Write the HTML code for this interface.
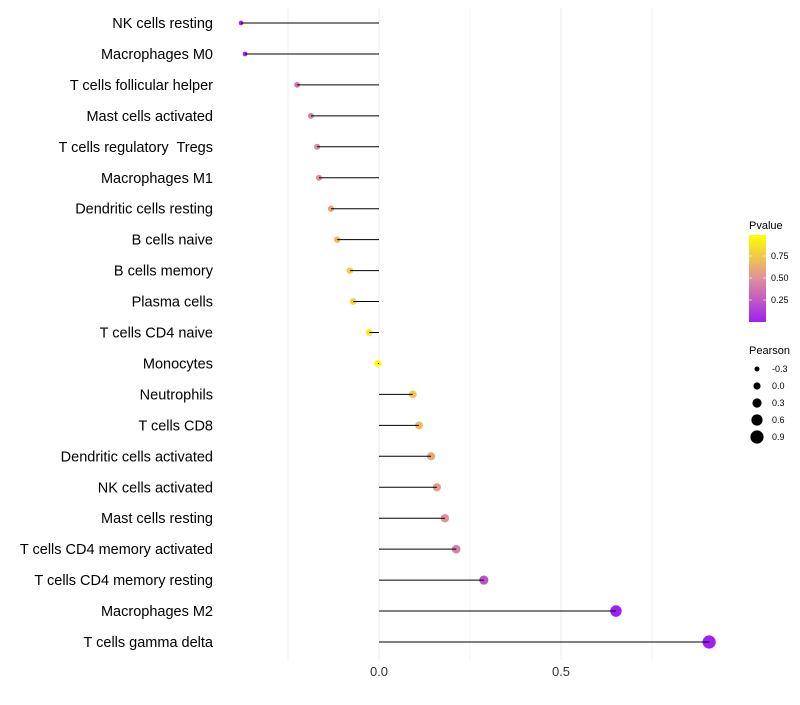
<!DOCTYPE html>
<html><head><meta charset="utf-8"><style>
body{margin:0;background:#fff;font-family:"Liberation Sans",sans-serif}
text{white-space:pre}
</style></head><body>
<svg id="chart" width="800" height="700" xmlns="http://www.w3.org/2000/svg">
<defs><linearGradient id="pg" x1="0" y1="1" x2="0" y2="0">
<stop offset="0" stop-color="#A020F0"/><stop offset="0.5" stop-color="#E0909A"/><stop offset="1" stop-color="#FFFF00"/></linearGradient></defs>
<g id="grid"></g><g id="dots"></g><g id="marks"></g><g id="ylabels"></g><g id="xlabels"></g>
<g>
<text x="749" y="229" font-size="11" fill="#000">Pvalue</text>
<rect x="749" y="235" width="17" height="87" fill="url(#pg)"/>
<line x1="749" x2="752" y1="256" y2="256" stroke="#fff" opacity="0.6"/><line x1="763" x2="766" y1="256" y2="256" stroke="#fff" opacity="0.6"/>
<line x1="749" x2="752" y1="278" y2="278" stroke="#fff" opacity="0.6"/><line x1="763" x2="766" y1="278" y2="278" stroke="#fff" opacity="0.6"/>
<line x1="749" x2="752" y1="300" y2="300" stroke="#fff" opacity="0.6"/><line x1="763" x2="766" y1="300" y2="300" stroke="#fff" opacity="0.6"/>
<text x="771" y="259" font-size="9">0.75</text><text x="771" y="281" font-size="9">0.50</text><text x="771" y="303" font-size="9">0.25</text>
</g>
<g>
<text x="749" y="354" font-size="11">Pearson</text>
<circle cx="757" cy="369" r="2.5"/><text x="772" y="372" font-size="9">-0.3</text>
<circle cx="757" cy="386" r="3.6"/><text x="772" y="389" font-size="9">0.0</text>
<circle cx="757" cy="403" r="4.6"/><text x="772" y="406" font-size="9">0.3</text>
<circle cx="757" cy="420" r="5.6"/><text x="772" y="423" font-size="9">0.6</text>
<circle cx="757" cy="437" r="6.6"/><text x="772" y="440" font-size="9">0.9</text>
</g>
</svg>
<script>
const cells=["NK cells resting","Macrophages M0","T cells follicular helper","Mast cells activated","T cells regulatory  Tregs","Macrophages M1","Dendritic cells resting","B cells naive","B cells memory","Plasma cells","T cells CD4 naive","Monocytes","Neutrophils","T cells CD8","Dendritic cells activated","NK cells activated","Mast cells resting","T cells CD4 memory activated","T cells CD4 memory resting","Macrophages M2","T cells gamma delta"];
const pearson=[-0.379,-0.368,-0.225,-0.187,-0.170,-0.165,-0.132,-0.115,-0.080,-0.071,-0.027,-0.003,0.093,0.110,0.143,0.159,0.181,0.212,0.288,0.651,0.907];
const pvalue=[0.0,0.02,0.38,0.45,0.48,0.5,0.6,0.7,0.8,0.8,0.9,0.99,0.75,0.7,0.6,0.55,0.5,0.42,0.22,0.0,0.0];
const xTicks=[0,0.5];
const xGrid=[-0.25,0,0.25,0.5,0.75];
const NS="http://www.w3.org/2000/svg";
const X=v=>379+v*364;
const Y=i=>23+i*30.95;
const R=v=>3.6+v*3.33;
function lerp(a,b,t){return a.map((x,k)=>Math.round(x+(b[k]-x)*t));}
function col(p){const P=[160,32,240],M=[224,144,154],Yl=[255,255,0];const c=p<0.5?lerp(P,M,p/0.5):lerp(M,Yl,(p-0.5)/0.5);return `rgb(${c})`;}
function mk(t,a,parent){const e=document.createElementNS(NS,t);for(const k in a)e.setAttribute(k,a[k]);document.getElementById(parent).appendChild(e);return e;}
xGrid.forEach(v=>{const l=mk('line',{x1:X(v),x2:X(v),y1:8,y2:660,stroke:'#ebebeb','stroke-width':v%0.5===0?1:0.6},'grid');

});
xTicks.forEach(v=>{const t=mk('text',{x:X(v),y:676,'font-size':13,'text-anchor':'middle',fill:'#333'},'xlabels');t.textContent=v.toFixed(1);

});
cells.forEach((c,i)=>{
const d=mk('circle',{cx:X(pearson[i]),cy:Y(i),r:R(pearson[i]),fill:col(pvalue[i])},'dots');


const l=mk('line',{x1:X(0),x2:X(pearson[i]),y1:Y(i),y2:Y(i),stroke:'#000','stroke-width':1},'marks');


const t=mk('text',{x:213,y:Y(i)+5,'font-size':14.5,'text-anchor':'end',fill:'#000'},'ylabels');t.textContent=c;


});
</script>
</body></html>
